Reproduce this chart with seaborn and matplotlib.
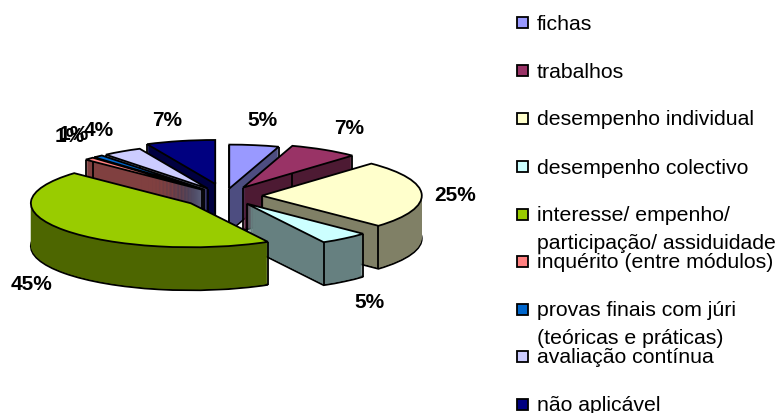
import math
import matplotlib
matplotlib.use("Agg")
import matplotlib.pyplot as plt
from matplotlib.patches import Wedge, Rectangle
from matplotlib.colors import to_rgb
import seaborn as sns

categories = ["fichas", "trabalhos", "desempenho individual", "desempenho colectivo",
              "interesse/ empenho/\nparticipação/ assiduidade", "inquérito (entre módulos)",
              "provas finais com júri\n(teóricas e práticas)", "avaliação contínua", "não aplicável"]
values = [5, 7, 25, 5, 45, 1, 1, 4, 7]
colors = ["#9999FF", "#993366", "#FFFFCC", "#CCFFFF", "#99CC00", "#FF8080", "#0066CC", "#CCCCFF", "#000080"]
label_texts = ["5%", "7%", "25%", "5%", "45%", "1%", "1%", "4%", "7%"]
label_px = [(262, 121), (349, 129), (455, 196), (369, 303), (31, 285), (70, 136), (74, 135), (99, 131), (167, 121)]
legend_y_px = [24, 72, 120, 168, 216, 263, 311, 358, 406]
draw_order = [8, 0, 1, 7, 6, 5, 2, 3, 4]
explode = [0.17, 0.22, 0.23, 0.22, 0.27, 0.2, 0.2, 0.2, 0.28]

W, H = 783, 414
CX, CY, RX, RY, DEPTH_PX = 225, 197, 160, 44, 43
LINE_GAP = 27.5
LW = 1.3

sns.set_theme(style="white")
plt.rcParams["font.family"] = ["Liberation Sans", "DejaVu Sans"]
palette = sns.color_palette(colors)

fig = plt.figure(figsize=(W / 100, H / 100), dpi=100)
ax = fig.add_axes([0, 0, 1, 1])

wedges, _ = ax.pie(values, explode=explode, colors=palette, startangle=90,
                   counterclock=False, wedgeprops={"edgecolor": "black", "linewidth": LW})
ax.set_aspect("auto")
ax.set_xlim((0 - CX) / RX, (W - CX) / RX)
ax.set_ylim((CY - H) / RY, CY / RY)
ax.axis("off")

depth = DEPTH_PX / RY
steps = DEPTH_PX
for rank, i in enumerate(draw_order):
    w = wedges[i]
    w.set_zorder(rank * 3 + 2)
    dark = tuple(c * 0.5 for c in to_rgb(colors[i]))
    cx, cy = w.center
    ax.add_patch(Wedge((cx, cy - depth), w.r, w.theta1, w.theta2, facecolor=dark,
                       edgecolor="black", linewidth=LW, zorder=rank * 3))
    for s in range(steps):
        ax.add_patch(Wedge((cx, cy - depth * s / steps), w.r, w.theta1, w.theta2,
                           facecolor=dark, edgecolor="none", linewidth=0, zorder=rank * 3))
    corners = [(cx, cy)]
    for t in (w.theta1, w.theta2):
        corners.append((cx + w.r * math.cos(math.radians(t)), cy + w.r * math.sin(math.radians(t))))
    for x, y in corners:
        ax.plot([x, x], [y, y - depth], color="black", lw=LW, zorder=rank * 3 + 1, solid_capstyle="butt")

for t, (x, y) in zip(label_texts, label_px):
    fig.text(x / W, 1 - y / H, t, fontsize=15, fontweight="bold", ha="center", va="center", color="black", zorder=50)

for name, c, y in zip(categories, colors, legend_y_px):
    fig.add_artist(Rectangle((517 / W, 1 - (y - 1 + 5.5) / H), 11 / W, 11 / H, transform=fig.transFigure,
                             facecolor=c, edgecolor="black", linewidth=LW))
    for k, line in enumerate(name.split("\n")):
        fig.text(537 / W, 1 - (y + k * LINE_GAP) / H, line, fontsize=15.3, ha="left", va="center", color="black")

fig.savefig("out.png", dpi=100, facecolor="white")
